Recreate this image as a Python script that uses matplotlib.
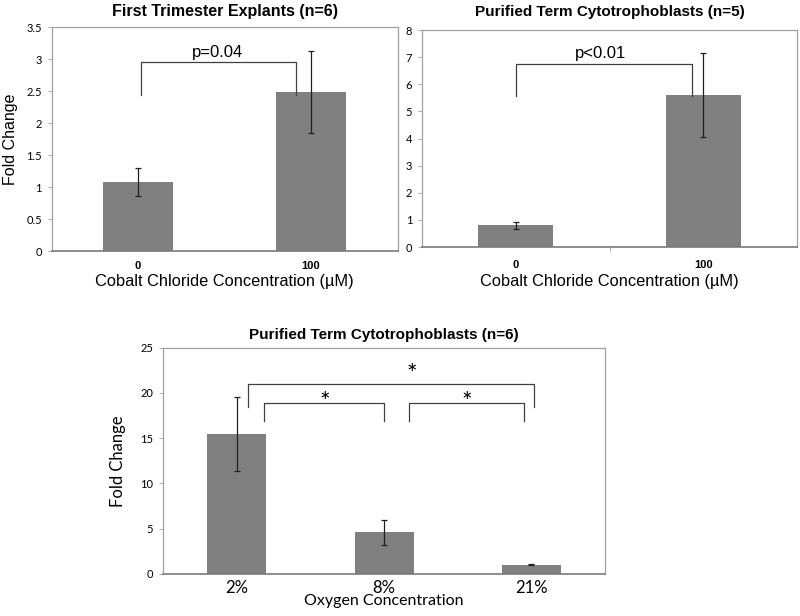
import matplotlib
matplotlib.use("Agg")
import matplotlib.pyplot as plt
import numpy as np

# first trimester explants
cats_a = ['0', '100']
vals_a = [1.08, 2.49]
err_a = [0.22, 0.64]

# purified term cytotrophoblasts, cobalt
cats_b = ['0', '100']
vals_b = [0.80, 5.60]
err_b = [0.13, 1.55]

# purified term cytotrophoblasts, oxygen
cats_c = ['2%', '8%', '21%']
vals_c = [15.45, 4.60, 1.00]
err_c = [4.05, 1.40, 0.05]

bar_col = '#808080'
title_font = 'Liberation Sans'
tick_font = 'Lato'

fig = plt.figure(figsize=(8, 6.16), dpi=100)


def style_axes(ax):
    for s in ['top', 'right', 'left']:
        ax.spines[s].set_color('#a0a0a0')
        ax.spines[s].set_linewidth(0.9)
    ax.spines['bottom'].set_color('#7a7a7a')
    ax.spines['bottom'].set_linewidth(1.2)
    ax.tick_params(axis='y', length=3, width=0.6, color='#a0a0a0', labelsize=8, pad=4)
    for lab in ax.get_yticklabels():
        lab.set_fontfamily(tick_font)


def bracket(ax, x0, x1, ytop, yl, yr):
    ax.plot([x0, x0, x1, x1], [yl, ytop, ytop, yr], color='#404040', lw=0.9)


# top left
ax1 = fig.add_axes([0.0644, 0.5925, 0.4325, 0.3636])
x = np.arange(len(cats_a))
ax1.bar(x, vals_a, width=0.4, color=bar_col)
ax1.errorbar(x, vals_a, yerr=err_a, fmt='none', ecolor='#202020', elinewidth=0.9, capsize=2.5, capthick=0.9)
ax1.set_xlim(-0.5, 1.5)
ax1.set_ylim(0, 3.5)
ax1.set_yticks(np.arange(0, 3.51, 0.5))
ax1.set_yticklabels(['0', '0.5', '1', '1.5', '2', '2.5', '3', '3.5'])
ax1.set_xticks(x)
ax1.set_xticklabels(cats_a, fontweight='bold', fontsize=8, fontfamily=title_font)
ax1.tick_params(axis='x', length=0, pad=7)
style_axes(ax1)
ax1.set_title('First Trimester Explants (n=6)', fontsize=11.5, fontweight='bold', fontfamily=title_font, pad=8)
ax1.set_ylabel('Fold Change', fontsize=11.5, fontfamily=title_font, labelpad=6)
ax1.set_xlabel('Cobalt Chloride Concentration (µM)', fontsize=11.8, fontfamily=title_font, labelpad=2)
bracket(ax1, 0.017, 0.913, 2.95, 2.44, 2.44)
ax1.text(0.457, 3.1, 'p=0.04', ha='center', va='center', fontsize=12, fontfamily=title_font)

# top right
ax2 = fig.add_axes([0.5275, 0.599, 0.469, 0.352])
x = np.arange(len(cats_b))
ax2.bar(x, vals_b, width=0.4, color=bar_col)
ax2.errorbar(x, vals_b, yerr=err_b, fmt='none', ecolor='#202020', elinewidth=0.9, capsize=2.5, capthick=0.9)
ax2.set_xlim(-0.5, 1.5)
ax2.set_ylim(0, 8)
ax2.set_yticks(np.arange(0, 9, 1))
ax2.set_xticks(x)
ax2.set_xticklabels(cats_b, fontweight='bold', fontsize=8, fontfamily=title_font)
ax2.tick_params(axis='x', length=0, pad=9)
ax2.set_xticks([0.5], minor=True)
ax2.tick_params(axis='x', which='minor', length=3, color='#a0a0a0')
style_axes(ax2)
ax2.set_title('Purified Term Cytotrophoblasts (n=5)', fontsize=11, fontweight='bold', fontfamily=title_font, pad=10)
ax2.set_xlabel('Cobalt Chloride Concentration (µM)', fontsize=11.8, fontfamily=title_font, labelpad=3)
bracket(ax2, 0.0, 0.94, 6.75, 5.58, 5.58)
ax2.text(0.45, 7.15, 'p<0.01', ha='center', va='center', fontsize=12, fontfamily=title_font)

# bottom
ax3 = fig.add_axes([0.2038, 0.0682, 0.5525, 0.3674])
x = np.arange(len(cats_c))
ax3.bar(x, vals_c, width=0.4, color=bar_col)
ax3.errorbar(x, vals_c, yerr=err_c, fmt='none', ecolor='#202020', elinewidth=0.9, capsize=2.5, capthick=0.9)
ax3.set_xlim(-0.5, 2.5)
ax3.set_ylim(0, 25)
ax3.set_yticks(np.arange(0, 26, 5))
ax3.set_xticks(x)
ax3.set_xticklabels(cats_c, fontsize=12, fontfamily=tick_font)
ax3.tick_params(axis='x', length=0, pad=4)
style_axes(ax3)
ax3.set_title('Purified Term Cytotrophoblasts (n=6)', fontsize=11, fontweight='bold', fontfamily=title_font, pad=6)
ax3.set_ylabel('Fold Change', fontsize=12, fontfamily=tick_font, labelpad=10)
ax3.set_xlabel('Oxygen Concentration', fontsize=11.5, fontfamily=tick_font, labelpad=-1)
bracket(ax3, 0.077, 2.02, 20.96, 18.5, 18.5)
bracket(ax3, 0.186, 1.0, 18.9, 16.9, 16.9)
bracket(ax3, 1.17, 1.95, 18.9, 16.9, 16.9)
ax3.text(1.19, 22.0, '*', ha='center', va='center', fontsize=18, fontfamily=tick_font)
ax3.text(0.6, 18.9, '*', ha='center', va='center', fontsize=18, fontfamily=tick_font)
ax3.text(1.56, 18.9, '*', ha='center', va='center', fontsize=18, fontfamily=tick_font)

fig.savefig('out.png', dpi=100)
